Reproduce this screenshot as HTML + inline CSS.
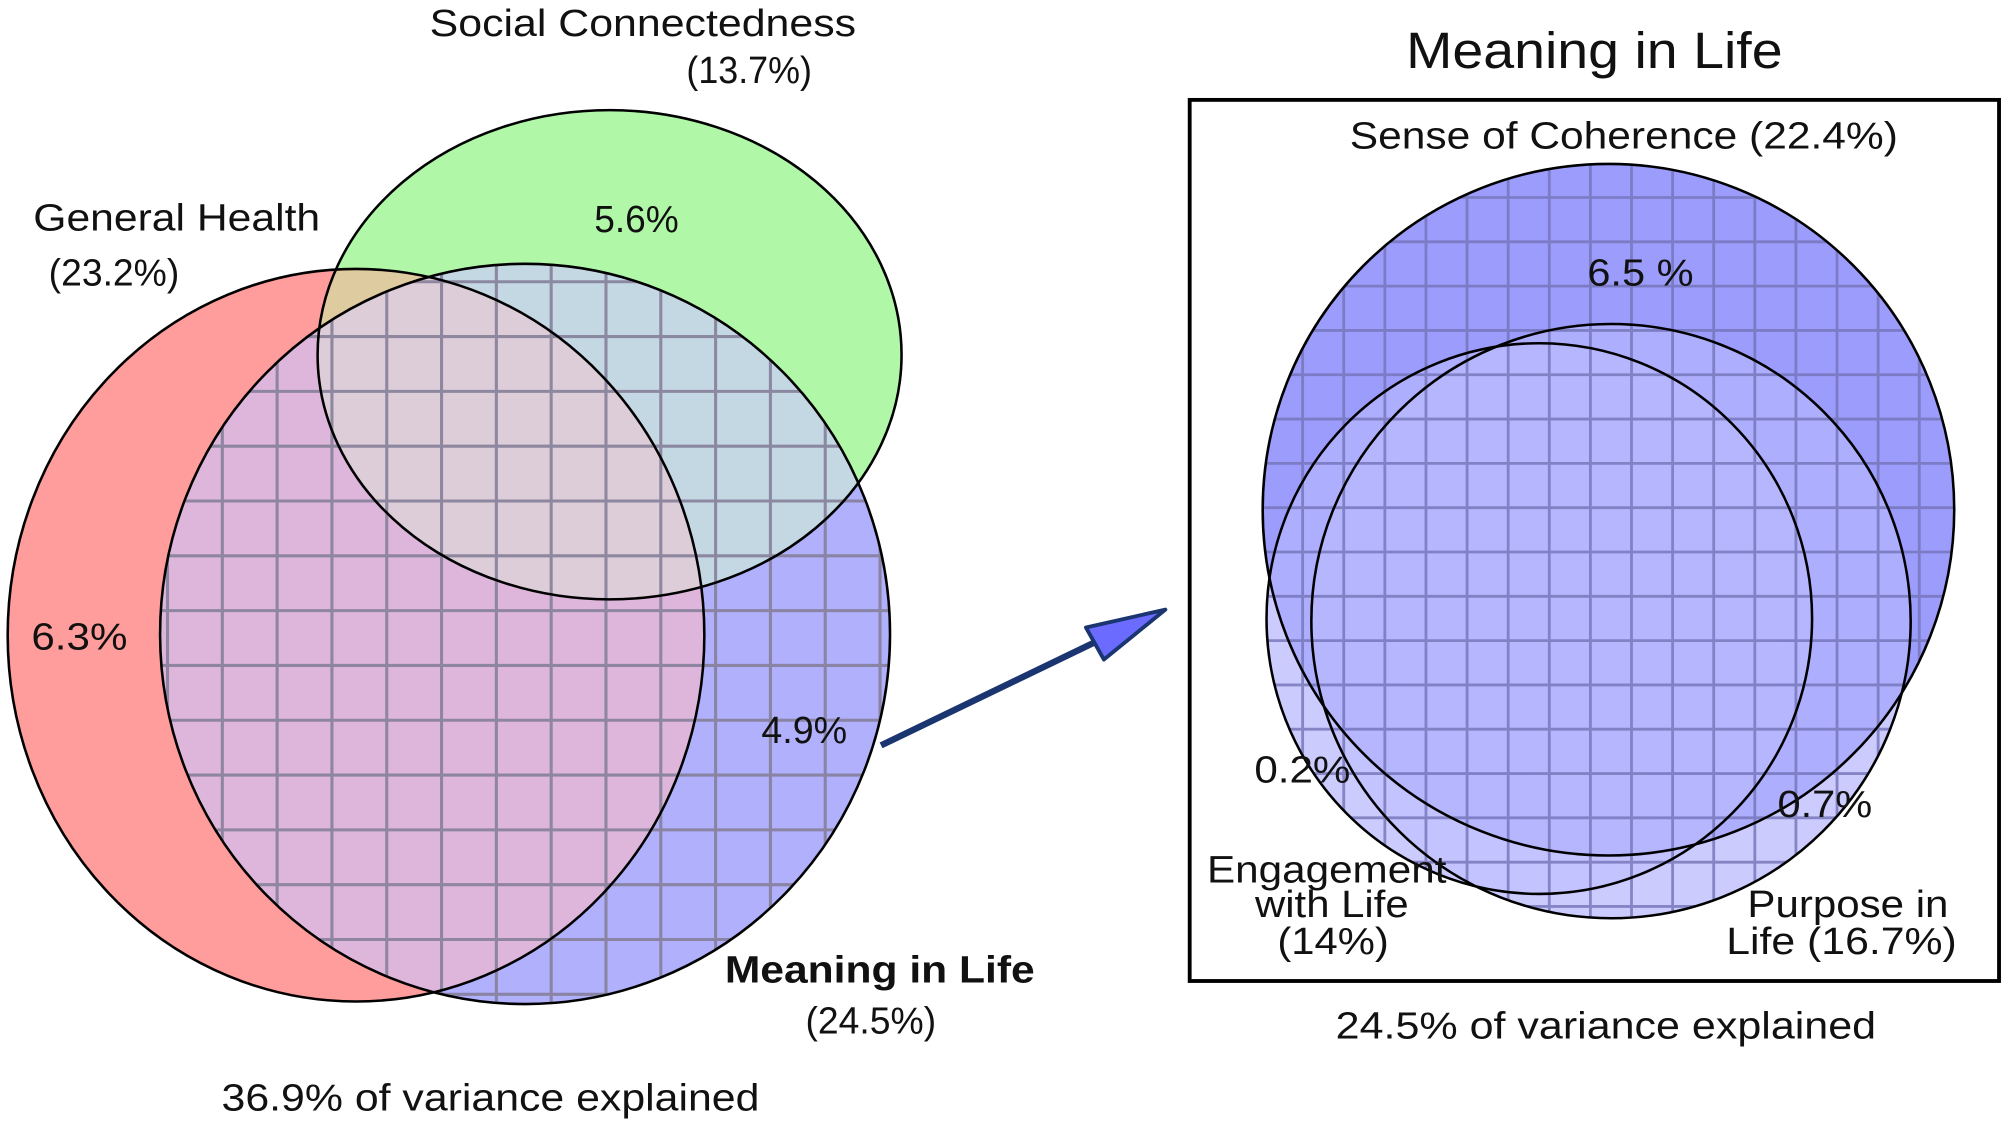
<!DOCTYPE html>
<html><head><meta charset="utf-8"><style>
html,body{margin:0;padding:0;background:#fff;}
svg{display:block;}
text{font-family:"Liberation Sans",sans-serif;fill:#111;}
</style></head><body>
<svg id="fig" width="2008" height="1127" viewBox="0 0 1568 880" preserveAspectRatio="none" xmlns="http://www.w3.org/2000/svg">
<defs>
  <clipPath id="cBlue"><ellipse cx="410" cy="495" rx="285" ry="289"/></clipPath>
  <clipPath id="cGreen"><ellipse cx="476" cy="277" rx="228" ry="191"/></clipPath>
  <clipPath id="cRight">
    <circle cx="1256" cy="398" r="270"/>
    <ellipse cx="1202" cy="483" rx="213" ry="215"/>
    <ellipse cx="1258" cy="485" rx="234" ry="232"/>
  </clipPath>
</defs>
<g>
  <ellipse cx="278" cy="496" rx="272" ry="286" fill="#ff9c9c"/>
  <ellipse cx="476" cy="277" rx="228" ry="191" fill="#b0f8a8"/>
  <ellipse cx="410" cy="495" rx="285" ry="289" fill="#b0b0fc"/>
  <g clip-path="url(#cBlue)"><ellipse cx="278" cy="496" rx="272" ry="286" fill="#deb6dc"/></g>
  <g clip-path="url(#cBlue)"><ellipse cx="476" cy="277" rx="228" ry="191" fill="#c4d8e4"/></g>
  <g clip-path="url(#cGreen)"><ellipse cx="278" cy="496" rx="272" ry="286" fill="#dfcba0"/></g>
  <g clip-path="url(#cBlue)"><g clip-path="url(#cGreen)"><ellipse cx="278" cy="496" rx="272" ry="286" fill="#dccdd8"/></g></g>
  <g id="gridL" clip-path="url(#cBlue)" stroke="#86809a" stroke-width="2.4" opacity="0.9"></g>
  <g fill="none" stroke="#000" stroke-width="2">
    <ellipse cx="278" cy="496" rx="272" ry="286"/>
    <ellipse cx="476" cy="277" rx="228" ry="191"/>
    <ellipse cx="410" cy="495" rx="285" ry="289"/>
  </g>
</g>
<g>
  <line x1="688" y1="582" x2="858" y2="500" stroke="#1a3570" stroke-width="5"/>
  <polygon points="910,476 848,490 862,515" fill="#6b6bff" stroke="#1a3570" stroke-width="3" stroke-linejoin="round"/>
</g>
<g>
  <rect x="929" y="78" width="632" height="688" fill="none" stroke="#000" stroke-width="3"/>
  <ellipse cx="1202" cy="483" rx="213" ry="215" fill="#dcdcfc"/>
  <ellipse cx="1258" cy="485" rx="234" ry="232" fill="#dcdcfc"/>
  <circle cx="1256" cy="398" r="270" fill="#9c9cfc"/>
  <ellipse cx="1202" cy="483" rx="213" ry="215" fill="rgba(190,190,255,0.55)"/>
  <ellipse cx="1258" cy="485" rx="234" ry="232" fill="rgba(190,190,255,0.55)"/>
  <g id="gridR" clip-path="url(#cRight)" stroke="#7474b8" stroke-width="2.2" opacity="0.8"></g>
  <g fill="none" stroke="#000" stroke-width="2">
    <circle cx="1256" cy="398" r="270"/>
    <ellipse cx="1202" cy="483" rx="213" ry="215"/>
    <ellipse cx="1258" cy="485" rx="234" ry="232"/>
  </g>
</g>
<g id="labels"></g>
</svg>
<script>
const labelTexts = ["Social Connectedness","(13.7%)","General Health","(23.2%)","5.6%","6.3%","4.9%","Meaning in Life","(24.5%)","36.9% of variance explained","Meaning in Life","Sense of Coherence (22.4%)","6.5 %","0.2%","0.7%","Engagement","with Life","(14%)","Purpose in","Life (16.7%)","24.5% of variance explained"];
const labelNames = ["social-connectedness-label","social-connectedness-value","general-health-label","general-health-value","social-unique-value","health-unique-value","meaning-unique-value","meaning-in-life-label","meaning-in-life-value","left-caption","right-title","sense-of-coherence-label","coherence-unique-value","engagement-unique-value","purpose-unique-value","engagement-label","engagement-label-2","engagement-value","purpose-label","purpose-label-2","right-caption"];
const labelX = [502,585,138,89,497,62,628,687,680,383,1245,1268,1281,1017,1425,1036,1040,1041,1443,1438,1254];
const labelY = [28,65,180,223,181,507,580,767,807,867,53,116,223,611,638,689,716,745,716,745,811];
const labelSize = [30,30,30,30,30,30,30,30,30,30,40,30,30,30,30,30,30,30,30,30,30];
const labelLen = [333,98,224,102,66,75,67,242,102,420,294,428,83,75,74,187,120,87,157,180,422];
const labelBold = [0,0,0,0,0,0,0,1,0,0,0,0,0,0,0,0,0,0,0,0,0];
const NS = "http://www.w3.org/2000/svg";
const lg = document.getElementById('labels');
labelTexts.forEach((t,i)=>{
  const el = document.createElementNS(NS,'text');
  el.setAttribute('x',labelX[i]); el.setAttribute('y',labelY[i]);
  el.setAttribute('text-anchor','middle'); el.setAttribute('font-size',labelSize[i]);
  el.setAttribute('textLength',labelLen[i]); el.setAttribute('lengthAdjust','spacingAndGlyphs');
  if(labelBold[i]) el.setAttribute('font-weight','bold');
  el.textContent = t;
  
  
  lg.appendChild(el);
});
function grid(id,x0,x1,dx,y0,y1,dy){
  const g=document.getElementById(id);
  for(let x=x0;x<=x1;x+=dx){const l=document.createElementNS(NS,'line');l.setAttribute('x1',x);l.setAttribute('x2',x);l.setAttribute('y1',y0-dy*8);l.setAttribute('y2',y1);
    
    
    g.appendChild(l);}
  for(let y=y0-dy*8;y<=y1;y+=dy){const l=document.createElementNS(NS,'line');l.setAttribute('y1',y);l.setAttribute('y2',y);l.setAttribute('x1',x0-dx*8);l.setAttribute('x2',x1);
    
    
    g.appendChild(l);}
}
grid('gridL',260-43*4,720,42.8,220,800,42.8);
grid('gridR',1017-32*2,1540,32.1,258,740,34.6);
</script>
</body></html>
